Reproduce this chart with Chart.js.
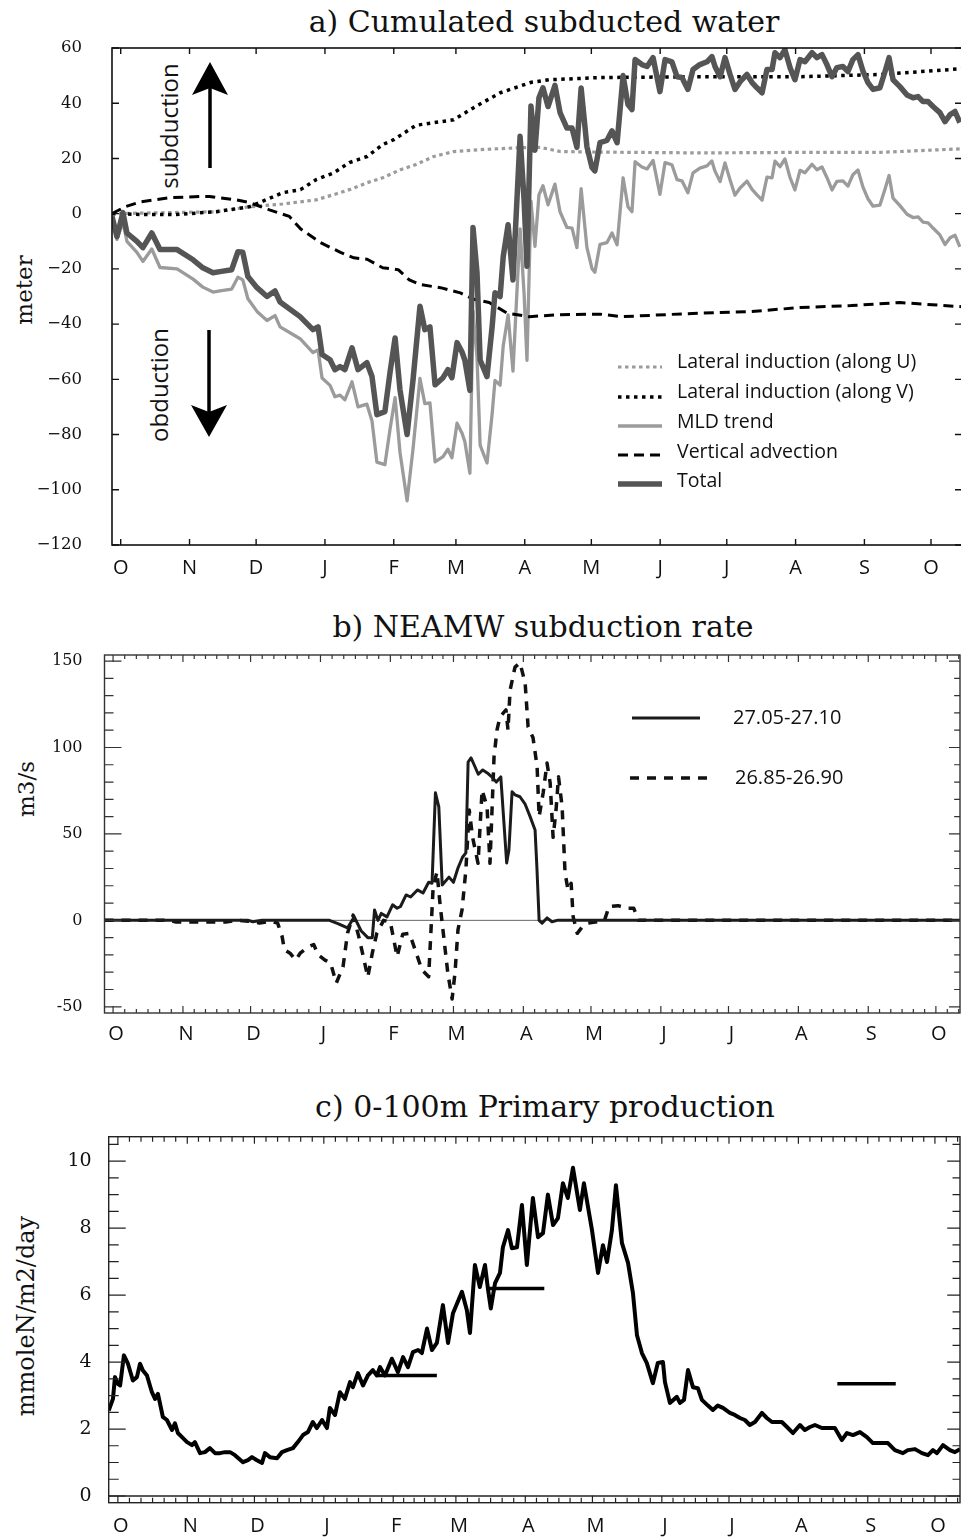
<!DOCTYPE html>
<html>
<head>
<meta charset="utf-8">
<title>Subduction and primary production</title>
<script src="https://cdn.jsdelivr.net/npm/chart.js@4.4.1/dist/chart.umd.min.js"></script>
<style>
  html, body { margin: 0; background: #fff; }
  body { position: relative; width: 961px; height: 1538px; overflow: hidden; }
  canvas { position: absolute; left: 0; }
  .title, .axis-title, .note { position: absolute; white-space: nowrap; color: #111; line-height: 1; }
  .title { font: 30px "DejaVu Serif", serif; transform: translate(-50%, -50%); }
  .axis-title { font: 23px "DejaVu Serif", serif; transform: translate(-50%, -50%) rotate(-90deg); }
  .note { font: 24px "Open Sans", sans-serif; transform: translate(-50%, -50%) rotate(-90deg); }
  svg { position: absolute; left: 0; top: 0; }
</style>
</head>
<body>
<div class="title" style="left:544px;top:21px">a) Cumulated subducted water</div>
<div class="title" style="left:543px;top:626px">b) NEAMW subduction rate</div>
<div class="title" style="left:545px;top:1106px">c) 0-100m Primary production</div>
<div class="axis-title" style="left:24px;top:290px">meter</div>
<div class="axis-title" style="left:26px;top:789px">m3/s</div>
<div class="axis-title" style="left:26px;top:1316px;font-size:24px">mmoleN/m2/day</div>
<div class="note" style="left:168px;top:126px">subduction</div>
<div class="note" style="left:158px;top:385px">obduction</div>

<canvas id="panelA" width="964" height="590" style="top:0"></canvas>
<canvas id="panelB" width="961" height="460" style="top:590px"></canvas>
<canvas id="panelC" width="961" height="488" style="top:1050px"></canvas>

<svg width="961" height="600" viewBox="0 0 961 600">
  <line x1="210" y1="168" x2="210" y2="86" stroke="#000" stroke-width="3.5"/>
  <path d="M210 62 L228 95 L210 88 L192 95 Z" fill="#000"/>
  <line x1="209" y1="330" x2="209" y2="412" stroke="#000" stroke-width="3.5"/>
  <path d="M209 437 L227 405 L209 412 L191 405 Z" fill="#000"/>
</svg>

<script>
// days are counted from 1 October
const monthDays   = [0, 31, 61, 92, 123, 151, 182, 212, 243, 273, 304, 335, 365];
const monthLabels = ['O', 'N', 'D', 'J', 'F', 'M', 'A', 'M', 'J', 'J', 'A', 'S', 'O'];

const yTicksA = [-120, -100, -80, -60, -40, -20, 0, 20, 40, 60];
const yTicksB = [-50, 0, 50, 100, 150];
const yTicksC = [0, 2, 4, 6, 8, 10];

// --- a) cumulated subducted water (m) ---
const aDays = [
  -3.9, -1.7, 1, 2.8, 7.3, 10, 14, 17.7, 25.4, 32.6,
  37, 41.6, 44.7, 50, 52.8, 55, 57.3, 61.4, 65.9, 69.5,
  71.8, 80.8, 86.6, 88.9, 90.7, 94.3, 96.5, 98.8, 101, 104.2,
  106.9, 110.9, 113.2, 115.4, 119, 121.3, 123.6, 125.8, 129, 131.7,
  134.8, 137, 139.3, 141.6, 145.2, 147.4, 149.2, 151.5, 153.7, 155,
  157.3, 158.7, 160.5, 161.9, 165, 167.3, 168.6, 170.9, 172.3, 174.5,
  176.7, 179.9, 181.7, 183, 184.8, 186.6, 188.4, 190.2, 192.5, 195.6,
  197.9, 201, 203.3, 205.5, 207.4, 210, 212.3, 213.6, 215.9, 219,
  221.3, 223.6, 226.3, 228.5, 230.3, 231.7, 234.8, 237.1, 239.8, 242.9,
  245.2, 248.3, 250.6, 252.8, 255.5, 257.8, 260.9, 264.1, 266.3, 267.7,
  270, 272.2, 274.5, 276.7, 279, 282.1, 284.4, 286.6, 288.9, 291.1,
  293.4, 294.7, 297, 299.2, 301.5, 303.7, 306, 308.2, 311.4, 313.6,
  315.9, 318.1, 320.4, 322.6, 325.3, 327.6, 329.8, 332.1, 334.4, 336.6,
  338.9, 342, 344.3, 346.1, 347.9, 351, 354.2, 356.9, 359.2, 361.4,
  363.7, 365.9, 369, 371.3, 373.6, 375.8, 378
];
const aTotal = [
  -1, -8.3, 0.4, -7, -10, -12.3, -7, -13, -13, -16.7,
  -19.6, -21.4, -21, -20.3, -13.8, -14, -22.8, -26.8, -30, -28,
  -32, -37.3, -42, -41, -51, -52.9, -56.5, -55.4, -56.5, -48.6,
  -56.5, -54, -59, -72.8, -71.7, -57.6, -45, -63.8, -80, -60,
  -33.5, -42, -41, -62, -59.4, -56.5, -59.4, -46.7, -50, -53,
  -64, -5, -21.4, -53, -59, -41, -28.6, -30, -15.6, -4,
  -24, 28, 5, -19, 39, 23, 42, 45.6, 38.8, 46.5,
  36.6, 31, 31, 24, 45.5, 24.3, 16.7, 15.5, 25.7, 26.5,
  30, 25.7, 50, 39.5, 37.7, 55.8, 54, 53.3, 56.5, 44.2,
  55.8, 55, 49.6, 49.3, 45, 52.2, 54, 55, 56.9, 53.3,
  49.6, 56.5, 50.4, 45, 47.8, 50.4, 47.5, 45.6, 43.8, 52.2,
  52.2, 58.3, 56.5, 59.4, 52.9, 48.5, 55.8, 55, 58.3, 56.5,
  57.6, 54, 49.6, 52.9, 53.3, 51.5, 55.8, 57.6, 51.5, 47.5,
  45, 45.6, 51.5, 56.5, 48.5, 46, 43, 42, 42.4, 40.6,
  40.6, 38.8, 36.6, 33.3, 35.9, 37, 33
];
const aMld = [
  -1, -9.3, -3, -10, -14, -17.3, -12.8, -19.5, -20, -23.7,
  -26.6, -28.4, -28, -27.3, -23, -24, -30.8, -35.4, -38.7, -36.9,
  -41, -45.3, -50.3, -49.4, -59.5, -62.2, -66.3, -65.7, -67.4, -60.9,
  -70, -69, -75.1, -90, -90.9, -78.2, -66.6, -86.4, -104, -85,
  -59.7, -68.8, -68.5, -89.9, -88, -85.3, -88.4, -75.9, -79.4, -82.5,
  -94, -35.2, -52, -83.8, -90.3, -72.6, -60.4, -62.1, -47.9, -36.7,
  -57, -5.5, -28.9, -53.1, 4.5, -11.8, 6.8, 10.1, 3.2, 10.7,
  0.7, -5, -5.2, -12.3, 9.1, -12.2, -19.9, -21.2, -11.1, -10.5,
  -7, -11.3, 13, 2.5, 0.7, 18.8, 16.9, 16.2, 19.3, 7,
  18.5, 17.7, 12.3, 11.9, 7.6, 14.8, 16.5, 17.3, 19.1, 15.4,
  11.6, 18.4, 12.2, 6.7, 9.3, 11.8, 8.8, 6.8, 4.9, 13.2,
  13, 19, 17, 19.8, 13.1, 8.6, 15.7, 14.8, 17.9, 15.9,
  16.9, 13.1, 8.6, 11.7, 11.9, 10, 14.1, 15.8, 9.5, 5.4,
  2.7, 3.1, 8.9, 13.8, 5.6, 2.9, -0.2, -1.4, -1.2, -3.1,
  -3.3, -5.2, -7.7, -11.2, -8.7, -7.8, -12
];
const latVDays = [-3.9, 10, 25, 43, 58, 73, 81, 88, 96, 103, 111, 118, 123, 133, 150, 159, 171, 185, 193, 216, 261, 306, 342, 379];
const latV     = [0, -0.3, -0.3, 0.7, 2.5, 7.6, 8.7, 12.3, 14.8, 18.5, 20.7, 25, 26.8, 32, 34, 38.4, 43.8, 47.6, 48.5, 49.3, 49.6, 49.6, 50.4, 52.5];
const latUDays = [-3.9, 43, 58, 73, 81, 88, 96, 103, 111, 118, 126, 133, 141, 150, 162, 180, 189, 198, 216, 261, 306, 342, 379];
const latU     = [0, 0.7, 2.5, 3.5, 4.3, 5, 6.9, 8.7, 11.2, 13, 15.9, 17.8, 20.7, 22.5, 23.2, 23.9, 24, 22.5, 22.3, 22, 22.2, 22.2, 23.5];
const vertDays = [-3.9, 2, 9, 22, 36, 40, 52, 58, 67, 76, 81, 90, 99, 105, 111, 118, 125, 130, 135, 144, 153, 159, 166, 174, 184, 198, 216, 226, 261, 283, 306, 329, 351, 379];
const vertAdv  = [0, 2.5, 4.3, 5.8, 6.2, 6.2, 5, 4, 1.4, -1, -5.5, -10.5, -14, -16, -16.5, -19.6, -20.3, -24, -25.7, -26.8, -28.7, -31, -32.2, -36, -37.3, -36.6, -36.4, -37.3, -36, -35.5, -34, -33.3, -32.2, -33.7];

// --- b) NEAMW subduction rate (m3/s) ---
const bSolidDays = [
  -3.8, 60, 62, 66, 96, 100, 104, 107, 110, 113, 115, 116, 117.5, 119, 121.5, 124, 126, 127.5, 130, 132,
  135, 137.5, 140, 141.5, 143, 144.5, 146, 149, 151, 153, 155, 156.5, 157.5, 158.8, 160.5, 162, 164, 166, 168, 170,
  172, 174.6, 175.6, 177, 178.3, 180.5, 182.8, 185, 187.2, 188, 189, 190.3, 192.5, 194.7, 197, 375.7
];
const bSolid = [
  0, 0, -0.8, 0, 0, -2, -4.4, 2, -6, -10, -10, 6, 0, 4, 2, 9, 7, 8, 14.7, 13.5,
  17.6, 15.8, 22, 21.5, 73.8, 65.7, 20.5, 25, 22, 30.3, 36.5, 39, 91.6, 94, 89, 84.5, 87, 85.3, 83, 80,
  83, 33.2, 40.7, 74.4, 72.6, 71.5, 67.2, 60, 52.3, 31, 0, -1.6, 1.4, -0.8, 0, 0
];
const bDashDays = [
  -3.8, 25, 28, 50, 55, 60, 65, 70, 73, 75, 76, 78.5, 81, 83, 86.5, 89, 91, 94, 96.5, 99,
  102, 104, 106.5, 109, 111, 113, 115, 117, 120, 123, 126, 128.5, 131.5, 134.5, 137, 140, 142, 143.7, 145, 146.5,
  148.5, 150.4, 151.7, 153, 154.8, 156.5, 158, 159.5, 161.9, 163.7, 165.9, 167.2, 169, 170.3, 171.6, 174.3, 175.2, 176.1, 178.3, 180.5,
  182.8, 184.1, 186.3, 188.1, 189, 190.8, 192.5, 193.9, 195.2, 196.5, 197.6, 199.2, 200.5, 201.8, 203.2, 204.1, 205.9, 208.1, 210.8, 214.7,
  218, 220, 224, 228, 231, 233, 375.7
];
const bDash = [
  0, 0, -1, -1, 0, -0.5, -1.5, -0.5, -1.6, -9.4, -17, -19, -23, -19, -15.4, -14, -20, -23, -24.7, -36.3,
  -27, -7.5, 3, -9.4, -21, -32.8, -19, -7.5, 0, -1, -21, -8, -7.5, -19, -28.6, -32.6, 19.6, 28, 10, -7.5,
  -30.5, -45.5, -30, -5.5, 6, 29, 63.8, 48, 33, 75.4, 65.7, 33, 94.6, 110, 117.6, 121.7, 110, 133, 146.5, 149,
  137.3, 112, 105.6, 89, 60, 73.8, 91, 79.5, 48, 63.8, 83, 65.7, 27.4, 17.6, 21.4, 2, -7.5, -3.8, -1.6, -0.8,
  0, 8, 8.5, 7, 7, 0, 0
];

// --- c) 0-100 m primary production (mmoleN/m2/day) ---
const cDays = [
  -4.1, -2.2, -1.3, 0, 1, 2.7, 4.5, 6.7, 8.5, 9.9,
  11.2, 13, 15.2, 16.6, 17.9, 20.1, 21.9, 24.2, 25.5, 26.8,
  29.1, 30.9, 33.1, 34.4, 36.7, 38.9, 41.1, 43.4, 45.6, 47.8,
  50.1, 52.3, 55.9, 58.1, 59.9, 62.1, 64.4, 65.7, 67.9, 71.1,
  73.3, 75.5, 78.2, 80.4, 82.7, 84.9, 87.1, 88.9, 91.2, 93.4,
  94.7, 97, 99.2, 101.4, 103.7, 105, 107.2, 109.5, 111.7, 113.9,
  115.7, 117.1, 119.3, 122.4, 125.1, 127.4, 129.6, 131.8, 134.1, 135.8,
  138.1, 140.3, 142.5, 145.2, 147.5, 149.7, 153.7, 155.9, 157.3, 159.5,
  161.7, 164, 165.3, 166.6, 168.5, 170.7, 172, 174.3, 176, 178.3,
  180.5, 182.7, 185.4, 187.7, 189.9, 192.1, 194.4, 196.6, 198.8, 201,
  203.3, 206.4, 208.2, 211.8, 214.5, 216.7, 218.5, 220.7, 222.5, 225.2,
  227.9, 230.1, 231.9, 234.1, 236.3, 239, 241.2, 243.5, 244.4, 246.6,
  249.7, 251.1, 252.9, 254.7, 256.9, 259.1, 260.9, 263.6, 265.8, 268,
  270.3, 273.4, 275.6, 277.9, 280.1, 282.3, 284.6, 287.7, 289.9, 292.2,
  296.6, 298.9, 301.6, 304.7, 306.9, 309.2, 311.4, 314.5, 317.2, 320.3,
  323.4, 325.7, 328.4, 331.5, 334.6, 337.3, 340.4, 344, 347.1, 350.7,
  352.9, 356.1, 359.2, 361.9, 364.1, 365.9, 368.6, 371.7, 373.9, 376.2
];
const cProd = [
  2.55, 2.9, 3.55, 3.35, 3.3, 4.2, 3.95, 3.45, 3.55, 3.95,
  3.75, 3.6, 3.1, 2.9, 3.05, 2.36, 2.27, 1.97, 2.17, 1.88,
  1.73, 1.61, 1.52, 1.61, 1.28, 1.31, 1.43, 1.28, 1.28, 1.31,
  1.31, 1.22, 1.01, 1.07, 1.16, 1.07, 0.99, 1.28, 1.16, 1.13,
  1.31, 1.37, 1.43, 1.61, 1.82, 1.91, 2.21, 2.03, 2.27, 2.03,
  2.63, 2.42, 3.1, 2.9, 3.4, 3.25, 3.67, 3.3, 3.6, 3.76,
  3.6, 3.85, 3.6, 4.1, 3.7, 4.15, 3.85, 4.3, 4.36, 4.27,
  5.0, 4.36, 4.57, 5.7, 4.57, 5.46, 6.1, 5.55, 4.87, 6.9,
  6.24, 6.9, 6.2, 5.6, 6.36, 6.66, 7.43, 7.94, 7.4, 7.43,
  8.69, 6.9, 8.9, 7.73, 7.85, 9.0, 8.09, 8.3, 9.34, 8.9,
  9.8, 8.54, 9.34, 7.94, 6.66, 7.49, 6.99, 7.94, 9.28, 7.55,
  6.96, 6.06, 4.8, 4.27, 3.97, 3.37, 3.97, 4.0, 3.4, 2.78,
  2.96, 2.78, 2.87, 3.76, 3.25, 3.22, 2.87, 2.7, 2.57, 2.7,
  2.63, 2.48, 2.42, 2.33, 2.27, 2.12, 2.21, 2.48, 2.33, 2.21,
  2.21, 2.06, 1.88, 2.12, 1.97, 2.06, 2.12, 2.03, 2.03, 2.03,
  1.67, 1.88, 1.82, 1.91, 1.76, 1.58, 1.58, 1.58, 1.37, 1.28,
  1.37, 1.4, 1.28, 1.22, 1.37, 1.28, 1.52, 1.37, 1.31, 1.4
];
// period means, drawn as short horizontal bars
const meanStart = [116.2, 164.7, 321.4];
const meanEnd   = [142.5, 190.5, 347.5];
const meanValue = [3.6, 6.2, 3.35];

Chart.defaults.font.family = '"Open Sans", sans-serif';
Chart.defaults.color = '#111';

const series = (days, vals) => days.map((d, i) => ({ x: d, y: vals[i] }));

// six sub-ticks per month on the b) and c) frames
function monthSubTicks(parts) {
  const out = [];
  for (let i = 0; i < monthDays.length - 1; i++) {
    const step = (monthDays[i + 1] - monthDays[i]) / parts;
    for (let k = 1; k < parts; k++) out.push(monthDays[i] + k * step);
  }
  for (let k = 1; k < parts; k++) { out.push(-k * 30.4 / parts); out.push(365 + k * 30.4 / parts); }
  return out;
}
function steps(from, to, step) {
  const out = [];
  for (let v = from; v <= to + 1e-9; v += step) out.push(+v.toFixed(3));
  return out;
}

// frame, inward ticks and zero line for each panel
const frames = {
  panelA: { color: '#111', width: 1.6, tickWidth: 1.4,
            xMajor: monthDays, xMajorLen: 6, xMinor: [], xMinorLen: 0,
            yMajor: yTicksA, yMajorLen: 7, yMinor: [], yMinorLen: 0, rightShare: 1 },
  panelB: { color: '#333', width: 1.4, tickWidth: 1.2,
            xMajor: monthDays, xMajorLen: 7, xMinor: monthSubTicks(6), xMinorLen: 4,
            yMajor: yTicksB, yMajorLen: 17, yMinor: steps(-50, 150, 10), yMinorLen: 9, rightShare: 0.65,
            zero: 0, zeroColor: '#666', zeroWidth: 1 },
  panelC: { color: '#222', width: 1.4, tickWidth: 1.2,
            xMajor: monthDays, xMajorLen: 7, xMinor: monthSubTicks(6), xMinorLen: 5,
            yMajor: yTicksC, yMajorLen: 17, yMinor: steps(0, 10.5, 0.5), yMinorLen: 10, rightShare: 0.75,
            zero: 0, zeroColor: '#222', zeroWidth: 1.3 }
};

// legend rows drawn inside the plot area
const keys = {
  panelA: { font: '19.5px "Open Sans", sans-serif', rows: [
    { index: 3, x1: 618, x2: 662, y: 362, dy: 5, tx: 677 },
    { index: 2, x1: 618, x2: 662, y: 392, dy: 5, tx: 677 },
    { index: 4, x1: 618, x2: 662, y: 422, dy: 4, tx: 677 },
    { index: 1, x1: 618, x2: 662, y: 452, dy: 3, tx: 677 },
    { index: 0, x1: 618, x2: 662, y: 481, dy: 3, tx: 677 } ] },
  panelB: { font: '20px "Open Sans", sans-serif', rows: [
    { index: 0, x1: 632, x2: 700, y: 128, dy: 0, tx: 733 },
    { index: 1, x1: 630, x2: 707, y: 188, dy: 0, tx: 735 } ] }
};

const frameTicks = {
  id: 'frameTicks',
  beforeDatasetsDraw(chart) {
    const o = frames[chart.canvas.id];
    if (o.zero === undefined) return;
    const { ctx, chartArea: a, scales: { y } } = chart;
    const py = y.getPixelForValue(o.zero);
    ctx.save();
    ctx.strokeStyle = o.zeroColor;
    ctx.lineWidth = o.zeroWidth;
    ctx.beginPath(); ctx.moveTo(a.left, py); ctx.lineTo(a.right, py); ctx.stroke();
    ctx.restore();
  },
  afterDatasetsDraw(chart) {
    const o = frames[chart.canvas.id];
    const { ctx, chartArea: a, scales: { x, y } } = chart;
    ctx.save();
    ctx.strokeStyle = o.color;
    ctx.lineWidth = o.width;
    ctx.strokeRect(a.left, a.top, a.right - a.left, a.bottom - a.top);
    ctx.lineWidth = o.tickWidth;
    ctx.beginPath();
    const xMark = (v, len) => {
      const p = x.getPixelForValue(v);
      if (p <= a.left + 1 || p >= a.right - 1) return;
      ctx.moveTo(p, a.bottom); ctx.lineTo(p, a.bottom - len);
      ctx.moveTo(p, a.top);    ctx.lineTo(p, a.top + len);
    };
    const yMark = (v, len) => {
      const p = y.getPixelForValue(v);
      if (p < a.top - 0.5 || p > a.bottom + 0.5) return;
      ctx.moveTo(a.left, p);  ctx.lineTo(a.left + len, p);
      ctx.moveTo(a.right, p); ctx.lineTo(a.right - len * o.rightShare, p);
    };
    o.xMajor.forEach(v => xMark(v, o.xMajorLen));
    o.xMinor.forEach(v => xMark(v, o.xMinorLen));
    o.yMajor.forEach(v => yMark(v, o.yMajorLen));
    o.yMinor.forEach(v => yMark(v, o.yMinorLen));
    ctx.stroke();
    ctx.restore();
  }
};

const lineKey = {
  id: 'lineKey',
  afterDraw(chart) {
    const k = keys[chart.canvas.id];
    if (!k) return;
    const ctx = chart.ctx;
    ctx.save();
    ctx.font = k.font;
    ctx.fillStyle = '#111';
    ctx.textBaseline = 'middle';
    k.rows.forEach(r => {
      const ds = chart.data.datasets[r.index];
      ctx.beginPath();
      ctx.strokeStyle = ds.borderColor;
      ctx.lineWidth = ds.borderWidth;
      ctx.setLineDash(ds.borderDash || []);
      ctx.moveTo(r.x1, r.y + r.dy); ctx.lineTo(r.x2, r.y + r.dy);
      ctx.stroke();
      ctx.setLineDash([]);
      ctx.fillText(ds.label, r.tx, r.y);
    });
    ctx.restore();
  }
};

function monthAxis(min, max, height, pad, offset) {
  return {
    type: 'linear', min, max,
    grid: { display: false, drawTicks: false },
    border: { display: false },
    afterBuildTicks: s => { s.ticks = monthDays.map(v => ({ value: v })); },
    afterFit: s => { s.height = height; },
    ticks: { autoSkip: false, maxRotation: 0, padding: pad, labelOffset: offset,
             font: { size: 20 }, callback: (v, i) => monthLabels[i] }
  };
}
function valueAxis(min, max, ticks, width, pad, size, fmt) {
  return {
    type: 'linear', min, max,
    grid: { display: false, drawTicks: false },
    border: { display: false },
    afterBuildTicks: s => { s.ticks = ticks.map(v => ({ value: v })); },
    afterFit: s => { s.width = width; },
    ticks: { padding: pad, font: { family: '"DejaVu Serif", serif', size }, callback: fmt }
  };
}
function baseOptions(padding, x, y) {
  return {
    responsive: false, animation: false, events: [],
    layout: { padding },
    plugins: { legend: { display: false }, tooltip: { enabled: false } },
    elements: { point: { radius: 0 }, line: { tension: 0, borderJoinStyle: 'round', borderCapStyle: 'butt', fill: false } },
    scales: { x, y }
  };
}

new Chart(document.getElementById('panelA'), {
  type: 'line',
  data: { datasets: [
    { label: 'Total', data: series(aDays, aTotal), borderColor: '#555', borderWidth: 5.5 },
    { label: 'Vertical advection', data: series(vertDays, vertAdv), borderColor: '#000', borderWidth: 3, borderDash: [10, 6] },
    { label: 'Lateral induction (along V)', data: series(latVDays, latV), borderColor: '#000', borderWidth: 3.5, borderDash: [3.5, 4.5] },
    { label: 'Lateral induction (along U)', data: series(latUDays, latU), borderColor: '#9b9b9b', borderWidth: 3.2, borderDash: [3.5, 3.5] },
    { label: 'MLD trend', data: series(aDays, aMld), borderColor: '#9b9b9b', borderWidth: 3.3 }
  ] },
  options: baseOptions({ top: 48, right: 2, left: 0, bottom: 0 },
    monthAxis(-3.92, 378.96, 45, 11.4, 0),
    valueAxis(-120, 60, yTicksA, 112, 30, 16.5, v => v < 0 ? '\u2212' + Math.abs(v) : String(v))),
  plugins: [frameTicks, lineKey]
});

new Chart(document.getElementById('panelB'), {
  type: 'line',
  data: { datasets: [
    { label: '27.05-27.10', data: series(bSolidDays, bSolid), borderColor: '#1b1b1b', borderWidth: 3 },
    { label: '26.85-26.90', data: series(bDashDays, bDash), borderColor: '#111', borderWidth: 3.5, borderDash: [9, 8] }
  ] },
  options: baseOptions({ top: 65, right: 1, left: 0, bottom: 0 },
    monthAxis(-3.8, 375.7, 37, 9.4, 3),
    valueAxis(-53.6, 153.5, yTicksB, 104.5, 22, 16, v => String(v))),
  plugins: [frameTicks, lineKey]
});

new Chart(document.getElementById('panelC'), {
  type: 'line',
  data: { datasets: [
    { label: 'Primary production', data: series(cDays, cProd), borderColor: '#000', borderWidth: 4 },
    ...meanStart.map((s, i) => ({
      label: 'Mean', borderColor: '#000', borderWidth: 3.5,
      data: [{ x: s, y: meanValue[i] }, { x: meanEnd[i], y: meanValue[i] }]
    }))
  ] },
  options: baseOptions({ top: 86.7, right: 1, left: 0, bottom: 0 },
    monthAxis(-4.1, 376.2, 35.3, 11.5, 3),
    valueAxis(-0.2, 10.73, yTicksC, 108.7, 17, 19, v => String(v))),
  plugins: [frameTicks]
});
</script>
</body>
</html>
